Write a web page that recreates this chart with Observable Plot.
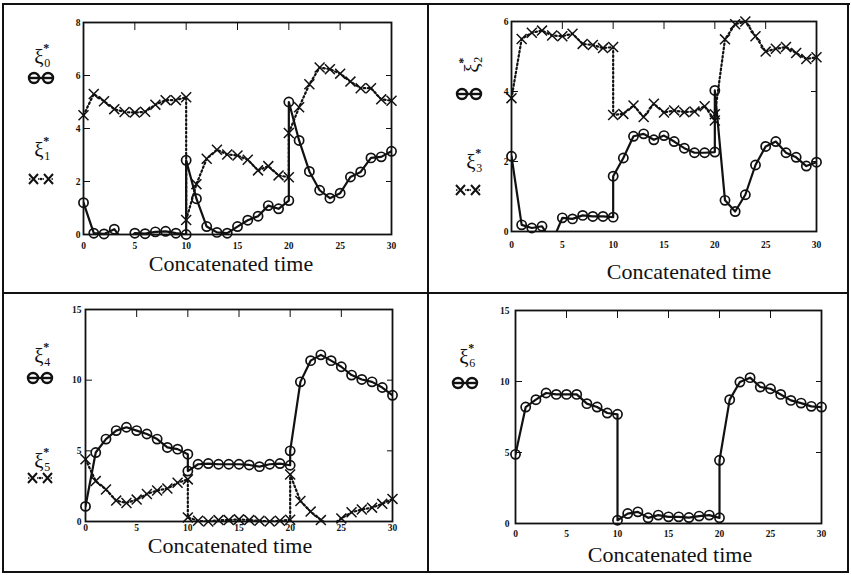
<!DOCTYPE html>
<html><head><meta charset="utf-8">
<script src="https://cdn.jsdelivr.net/npm/d3@7"></script>
<script src="https://cdn.jsdelivr.net/npm/@observablehq/plot@0.6"></script>
<style>
body{margin:0;background:#fff;}
#wrap{position:relative;width:851px;height:575px;overflow:hidden;background:#fff;font-family:"Liberation Serif",serif;color:#111;}
.p{position:absolute;}
.rule{position:absolute;background:#111;}
.xl{position:absolute;font-size:22px;transform:translate(-50%,-50%);white-space:nowrap;line-height:1;}
.sym{position:absolute;font-size:21px;line-height:21px;transform:translate(-50%,-50%);}
.sym i{font-style:normal;position:absolute;font-size:12px;line-height:12px;}
.sym .sb{left:10px;top:10px;}
.sym .sp{left:9px;top:-5px;font-weight:bold;}
.sw{position:absolute;transform:translate(-50%,-50%);display:block;}
</style>
</head><body>
<div id="wrap"></div>
<script>
// Concatenated time: three 10-unit runs, each sampled at 11 points
const time = [0,1,2,3,4,5,6,7,8,9,10, 10,11,12,13,14,15,16,17,18,19,20, 20,21,22,23,24,25,26,27,28,29,30];
const xTicks = [0,5,10,15,20,25,30];

const xi0 = [1.2,0.05,0.02,0.2,-0.3,0.05,0.03,0.1,0.12,0.05,0.0, 2.8,1.35,0.3,0.08,0.05,0.3,0.54,0.69,1.09,0.97,1.28, 5.0,3.55,2.38,1.67,1.37,1.56,2.17,2.36,2.89,2.93,3.14];
const xi1 = [4.5,5.3,5.03,4.73,4.62,4.6,4.63,4.9,5.07,5.07,5.18, 0.55,1.9,2.86,3.2,3.02,2.98,2.82,2.42,2.58,2.23,2.16, 3.83,4.8,5.67,6.3,6.24,6.07,5.77,5.52,5.52,5.1,5.05];
const xi2 = [2.15,0.19,0.1,0.15,-0.3,0.39,0.36,0.46,0.43,0.43,0.41, 1.58,2.1,2.72,2.79,2.62,2.74,2.57,2.38,2.25,2.25,2.27, 4.03,0.89,0.57,1.05,1.9,2.43,2.57,2.25,2.12,1.87,1.98];
const xi3 = [3.81,5.5,5.68,5.74,5.6,5.58,5.65,5.36,5.33,5.24,5.27, 3.33,3.36,3.6,3.27,3.65,3.4,3.46,3.41,3.43,3.58,3.17, 3.35,5.49,5.92,6.0,5.58,5.14,5.22,5.27,5.1,4.93,4.98];
const xi4 = [1.07,4.88,5.83,6.43,6.67,6.43,6.19,5.83,5.24,5.12,4.76, 3.57,4.05,4.1,4.05,4.05,4.05,4.0,3.88,4.05,4.1,3.98, 5.0,9.88,11.38,11.79,11.38,10.95,10.36,10.05,9.88,9.48,8.93];
const xi5 = [4.4,2.86,2.26,1.48,1.31,1.55,1.95,2.19,2.33,2.74,2.98, 0.29,0.05,0.0,0.1,0.1,0.15,0.1,0.05,0.0,0.05,0.12, 3.33,1.45,0.7,0.1,-0.3,0.22,0.65,0.85,0.98,1.25,1.6];
const xi6 = [4.87,8.2,8.72,9.19,9.09,9.09,9.09,8.44,8.2,7.78,7.69, 0.23,0.7,0.82,0.4,0.59,0.47,0.47,0.42,0.52,0.59,0.4, 4.45,8.72,9.96,10.27,9.61,9.49,9.09,8.67,8.48,8.25,8.2];

const yTicks8 = [0,2,4,6,8];
const yTicks6 = [0,2,4,6];
const yTicks15 = [0,5,10,15];

const wrap = document.getElementById("wrap");
const intFmt = d3.format("d");

function panel(o) {
  const marks = [Plot.frame({stroke: "#111", strokeWidth: 1.8})];
  for (const s of o.series) {
    const data = time.map((t, i) => ({t, v: s.values[i]}));
    if (s.kind === "circle") {
      marks.push(Plot.line(data, {x: "t", y: "v", stroke: "#111", strokeWidth: 2.2, clip: true}));
      marks.push(Plot.dot(data, {filter: d => d.v >= 0, x: "t", y: "v", r: 4.6, stroke: "#111", strokeWidth: 1.7, fill: "none"}));
    } else {
      marks.push(Plot.line(data, {x: "t", y: "v", stroke: "#111", strokeWidth: 2.2, strokeDasharray: "1.6,2.6", clip: true}));
      marks.push(Plot.dot(data, {filter: d => d.v >= 0, x: "t", y: "v", symbol: "times", r: 4.6, stroke: "#111", strokeWidth: 1.5}));
    }
  }
  const inner = o.yTicks.slice(1, -1);
  marks.push(
    Plot.axisX({ticks: xTicks, tickSize: 0, tickPadding: o.xPad, tickFormat: intFmt, label: null}),
    Plot.axisX({anchor: "top", ticks: xTicks.slice(1, -1), tickSize: -7, tickFormat: () => "", label: null}),
    Plot.axisY({ticks: o.yTicks, tickSize: -7, tickPadding: 7 + o.yPad, tickFormat: intFmt, label: null}),
    Plot.axisY({anchor: "right", ticks: inner, tickSize: -6, tickFormat: () => "", label: null})
  );
  const svg = Plot.plot({
    width: o.w, height: o.h,
    marginLeft: o.ml, marginRight: o.mr, marginTop: o.mt, marginBottom: o.mb,
    x: {domain: [0, 30]},
    y: {domain: [0, o.yMax]},
    style: {fontFamily: "'Liberation Serif', serif", fontSize: "9.5px", fontWeight: "bold", color: "#111", background: "transparent"},
    marks
  });
  const d = document.createElement("div");
  d.className = "p";
  d.style.left = o.left + "px";
  d.style.top = o.top + "px";
  d.appendChild(svg);
  wrap.appendChild(d);
}

panel({left: 0, top: 0, w: 425, h: 290, ml: 83, mr: 34, mt: 22, mb: 56, yMax: 8, yTicks: yTicks8, xPad: 8, yPad: 3,
  series: [{kind: "cross", values: xi1}, {kind: "circle", values: xi0}]});
panel({left: 425, top: 0, w: 426, h: 290, ml: 86, mr: 35, mt: 21, mb: 59, yMax: 6, yTicks: yTicks6, xPad: 10, yPad: 3,
  series: [{kind: "cross", values: xi3}, {kind: "circle", values: xi2}]});
panel({left: 0, top: 290, w: 425, h: 285, ml: 85, mr: 33, mt: 19, mb: 54, yMax: 15, yTicks: yTicks15, xPad: 3, yPad: 4,
  series: [{kind: "cross", values: xi5}, {kind: "circle", values: xi4}]});
panel({left: 425, top: 290, w: 426, h: 285, ml: 90, mr: 30, mt: 20, mb: 52, yMax: 15, yTicks: yTicks15, xPad: 7, yPad: 6,
  series: [{kind: "circle", values: xi6}]});

// panel rules
const rules = [
  [2, 3, 2, 570], [2, 3, 848, 2], [847, 3, 2, 570], [2, 571, 847, 2],
  [427, 3, 2, 570], [2, 292, 847, 2]
];
for (const [x, y, w, h] of rules) {
  const r = document.createElement("div");
  r.className = "rule";
  Object.assign(r.style, {left: x + "px", top: y + "px", width: w + "px", height: h + "px"});
  wrap.appendChild(r);
}

// axis titles
const xTitle = "Concatenated time";
for (const [x, y] of [[231, 264], [689, 272], [230, 546], [670, 555]]) {
  const t = document.createElement("div");
  t.className = "xl";
  t.style.left = x + "px"; t.style.top = y + "px";
  t.textContent = xTitle;
  wrap.appendChild(t);
}

// legend entries
const circleSw = '<svg width="30" height="14"><line x1="2" y1="7" x2="28" y2="7" stroke="#111" stroke-width="2.4"/><circle cx="8" cy="7" r="5" fill="none" stroke="#111" stroke-width="2.4"/><circle cx="22" cy="7" r="5" fill="none" stroke="#111" stroke-width="2.4"/></svg>';
const crossSw = '<svg width="28" height="14"><path d="M2,2L11,12M2,12L11,2M17,2L26,12M17,12L26,2" stroke="#111" stroke-width="2"/><line x1="2" y1="7" x2="26" y2="7" stroke="#111" stroke-width="1.6" stroke-dasharray="1.5,3"/><circle cx="14" cy="7" r="1.3" fill="#111"/></svg>';
const legends = [
  {sub: "0", x: 39, y: 57, rot: 0, sw: circleSw, sx: 41, sy: 80},
  {sub: "1", x: 39, y: 150, rot: 0, sw: crossSw, sx: 41, sy: 181},
  {sub: "2", x: 472, y: 68, rot: -90, sw: circleSw, sx: 469, sy: 96},
  {sub: "3", x: 471, y: 162, rot: 0, sw: crossSw, sx: 468, sy: 192},
  {sub: "4", x: 39, y: 356, rot: 0, sw: circleSw, sx: 40, sy: 380},
  {sub: "5", x: 39, y: 461, rot: 0, sw: crossSw, sx: 40, sy: 480},
  {sub: "6", x: 464, y: 357, rot: 0, sw: circleSw, sx: 465, sy: 385}
];
for (const L of legends) {
  const s = document.createElement("div");
  s.className = "sym";
  s.style.left = L.x + "px"; s.style.top = L.y + "px";
  if (L.rot) s.style.transform = "translate(-50%,-50%) rotate(" + L.rot + "deg)";
  s.innerHTML = 'ξ<i class="sb">' + L.sub + '</i><i class="sp">*</i>';
  wrap.appendChild(s);
  const g = document.createElement("div");
  g.className = "sw";
  g.style.left = L.sx + "px"; g.style.top = L.sy + "px";
  g.innerHTML = L.sw;
  wrap.appendChild(g);
}
</script>
</body></html>
